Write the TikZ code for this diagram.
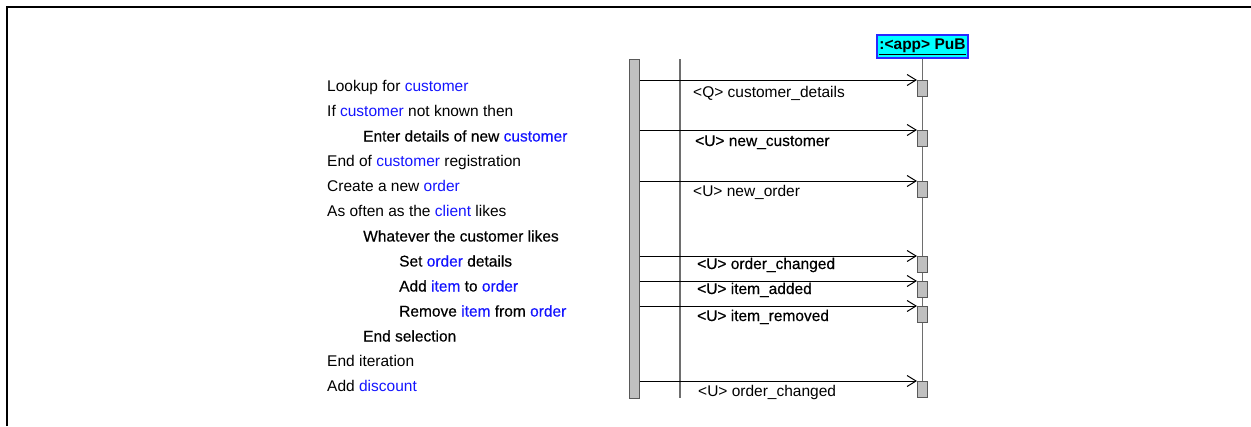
\documentclass[tikz,border=0pt]{standalone}
\usepackage{fontspec}
\setmainfont{Liberation Sans}
\newfontfamily\heavyfont[FakeBold=0.45]{Liberation Sans}
\usetikzlibrary{arrows.meta}
\definecolor{kwblue}{RGB}{20,20,255}
\definecolor{hdrfill}{RGB}{0,255,255}
\definecolor{hdrline}{RGB}{40,40,255}
\definecolor{barfill}{RGB}{192,192,192}
\definecolor{lifegray}{RGB}{110,110,110}
\newcommand\kwd[1]{\textcolor{kwblue}{#1}}
\tikzset{
  txt/.style={anchor=base west, inner sep=0pt, font=\fontsize{15.5}{18}\selectfont},
  htxt/.style={anchor=base west, inner sep=0pt, font=\fontsize{15.5}{18}\selectfont\heavyfont},
  actbox/.style={draw=black!65, fill=barfill, line width=1pt, minimum width=10pt,
    minimum height=16pt, inner sep=0pt, anchor=north},
  msg/.style={draw=black, line width=1pt, -{Straight Barb[length=9pt,width=11pt,line width=1pt]}},
  life/.style={draw=lifegray, line width=1.2pt},
  frameline/.style={draw=black, line width=2pt}
}
\begin{document}
\begin{tikzpicture}[x=1pt, y=-1pt]
\useasboundingbox (0,0) rectangle (1251,426);

% outer frame (top and left edges)
\coordinate (fbl) at (7,426);
\coordinate (ftl) at (7,7);
\coordinate (ftr) at (1251,7);
\draw[frameline] (fbl) -- (ftl) -- (ftr);

% object header and its lifeline
\node[draw=hdrline, fill=hdrfill, line width=1.2pt, inner sep=0pt,
      minimum width=91pt, minimum height=23pt,
      font=\fontsize{15.5}{18}\selectfont\bfseries] (hdr) at (922.5,46.5)
      {\underline{:<app> PuB}};
\coordinate (lifeend) at (hdr.south |- 0,398);
\draw[life] (hdr.south) -- (lifeend);

% caller activation bar and its second lifeline
\node[draw=black!65, fill=barfill, line width=1pt, inner sep=0pt,
      minimum width=10pt, minimum height=339pt, anchor=north] (bar) at (634,59) {};
\coordinate (l2top) at (680,59);
\coordinate (l2bot) at (680,398);
\draw[life] (l2top) -- (l2bot);

% activations on the receiving lifeline
\node[actbox] (a1) at (hdr.south |- 0,80) {};
\node[actbox] (a2) at (hdr.south |- 0,130) {};
\node[actbox] (a3) at (hdr.south |- 0,181) {};
\node[actbox] (a4) at (hdr.south |- 0,256) {};
\node[actbox] (a5) at (hdr.south |- 0,281) {};
\node[actbox] (a6) at (hdr.south |- 0,306) {};
\node[actbox] (a7) at (hdr.south |- 0,381) {};

% messages
\foreach \a in {a1,a2,a3,a4,a5,a6,a7}
  \draw[msg] (bar.east |- \a.north west) -- (\a.north west);

% message labels
\node[txt]  (m1) at (693,97)  {<Q> customer\_details};
\node[htxt] (m2) at (695,146) {<U> new\_customer};
\node[txt]  (m3) at (693,196) {<U> new\_order};
\node[htxt] (m4) at (697,269) {<U> order\_changed};
\node[htxt] (m5) at (697,294) {<U> item\_added};
\node[htxt] (m6) at (697,321) {<U> item\_removed};
\node[txt]  (m7) at (698,396) {<U> order\_changed};

% scenario text
\node[txt]  (s1)  at (327,91.5)  {Lookup for \kwd{customer}};
\node[txt]  (s2)  at (327,116.5) {If \kwd{customer} not known then};
\node[htxt] (s3)  at (363,141.5) {Enter details of new \kwd{customer}};
\node[txt]  (s4)  at (327,166.5) {End of \kwd{customer} registration};
\node[txt]  (s5)  at (327,191.5) {Create a new \kwd{order}};
\node[txt]  (s6)  at (327,216.5) {As often as the \kwd{client} likes};
\node[htxt] (s7)  at (363,241.5) {Whatever the customer likes};
\node[htxt] (s8)  at (399,266.5) {Set \kwd{order} details};
\node[htxt] (s9)  at (399,291.5) {Add \kwd{item} to \kwd{order}};
\node[htxt] (s10) at (399,316.5) {Remove \kwd{item} from \kwd{order}};
\node[htxt] (s11) at (363,341.5) {End selection};
\node[txt]  (s12) at (327,366.5) {End iteration};
\node[txt]  (s13) at (327,391.5) {Add \kwd{discount}};
\end{tikzpicture}
\end{document}
